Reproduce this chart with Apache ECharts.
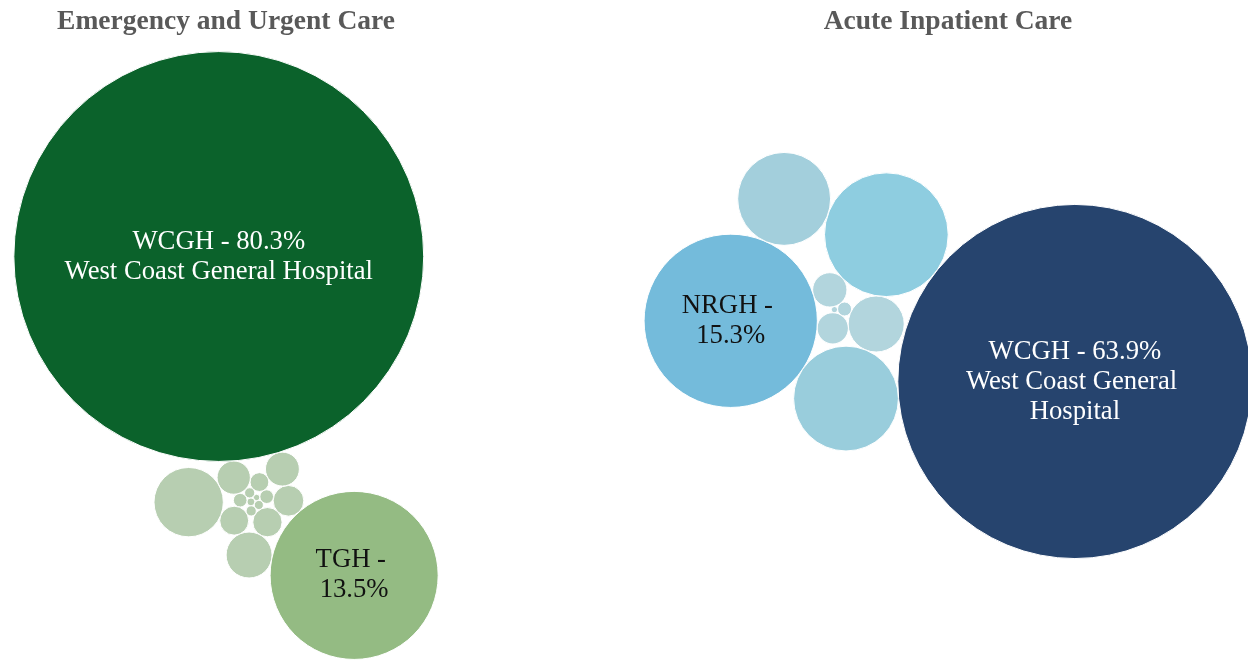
<!DOCTYPE html>
<html><head><meta charset="utf-8">
<script src="https://cdn.jsdelivr.net/npm/echarts@6/dist/echarts.min.js"></script>
<style>html,body{margin:0;padding:0;background:#fff}#c{width:1248px;height:663px}</style>
</head><body><div id="c"></div>
<script>
// ---------- DATA (share of patients, %), listed in packing order ----------
const erTitle = 'Emergency and Urgent Care';
const erCategories = ['ER-15','ER-14','ER-13','ER-12','ER-11','ER-10','ER-09','ER-08','ER-07','ER-06','ER-05','ER-04','ER-03','ER-02','ER-01','WCGH','TGH'];
const erValues     = [0.02, 0.03, 0.04, 0.05, 0.05, 0.09, 0.09, 0.17, 0.40, 0.41, 0.45, 0.53, 0.55, 1.01, 2.30, 80.3, 13.5];
const erFullNames  = ['','','','','','','','','','','','','','','','West Coast General Hospital','Tofino General Hospital'];

const ipTitle = 'Acute Inpatient Care';
const ipCategories = ['IP-08','IP-07','IP-06','IP-05','IP-04','IP-01','NRGH','IP-02','IP-03','WCGH'];
const ipValues     = [0.02, 0.10, 0.50, 0.60, 1.60, 7.80, 15.3, 5.60, 4.40, 63.9];
const ipFullNames  = ['','','','','','','Nanaimo Regional General Hospital','','','West Coast General Hospital'];

// ---------- circle packing (front-chain, as in d3.packSiblings) ----------
function place(b, a, c) {
  const dx = b.x - a.x, dy = b.y - a.y, d2 = dx * dx + dy * dy;
  if (d2) {
    let a2 = a.r + c.r; a2 *= a2;
    let b2 = b.r + c.r; b2 *= b2;
    if (a2 > b2) {
      const x = (d2 + b2 - a2) / (2 * d2), y = Math.sqrt(Math.max(0, b2 / d2 - x * x));
      c.x = b.x - x * dx - y * dy; c.y = b.y - x * dy + y * dx;
    } else {
      const x = (d2 + a2 - b2) / (2 * d2), y = Math.sqrt(Math.max(0, a2 / d2 - x * x));
      c.x = a.x + x * dx - y * dy; c.y = a.y + x * dy + y * dx;
    }
  } else { c.x = a.x + c.r; c.y = a.y; }
}
function intersects(a, b) {
  const dr = a.r + b.r - 1e-6, dx = b.x - a.x, dy = b.y - a.y;
  return dr > 0 && dr * dr > dx * dx + dy * dy;
}
function score(node) {
  const a = node._, b = node.next._, ab = a.r + b.r;
  const dx = (a.x * b.r + b.x * a.r) / ab, dy = (a.y * b.r + b.y * a.r) / ab;
  return dx * dx + dy * dy;
}
function Node(c) { this._ = c; this.next = null; this.previous = null; }
function packSiblings(circles) {
  const n = circles.length;
  if (!n) return;
  let a = circles[0], b, c;
  a.x = 0; a.y = 0;
  if (n < 2) return;
  b = circles[1]; a.x = -b.r; b.x = a.r; b.y = 0;
  if (n < 3) return;
  place(b, a, c = circles[2]);
  a = new Node(a); b = new Node(b); c = new Node(c);
  a.next = c.previous = b; b.next = a.previous = c; c.next = b.previous = a;
  pack: for (let i = 3; i < n; ++i) {
    place(a._, b._, c = circles[i]); c = new Node(c);
    let j = b.next, k = a.previous, sj = b._.r, sk = a._.r;
    do {
      if (sj <= sk) {
        if (intersects(j._, c._)) { b = j; a.next = b; b.previous = a; --i; continue pack; }
        sj += j._.r; j = j.next;
      } else {
        if (intersects(k._, c._)) { a = k; a.next = b; b.previous = a; --i; continue pack; }
        sk += k._.r; k = k.previous;
      }
    } while (j !== k.next);
    c.previous = a; c.next = b; a.next = b.previous = b = c;
    let aa = score(a), ca;
    while ((c = c.next) !== b) { if ((ca = score(c)) < aa) { a = c; aa = ca; } }
    b = a.next;
  }
}

// ---------- layout of one pane (radius ∝ √share) ----------
function layoutPane(values, cfg) {
  const circles = values.map((v, i) => ({ r: Math.sqrt(v), i }));
  packSiblings(circles);
  const rank = values.map((v, i) => i).sort((p, q) => values[q] - values[p]);
  const big = circles[rank[0]], second = circles[rank[1]];
  const tgt = cfg.angle * Math.PI / 180;
  const rot = tgt - Math.atan2(big.y - second.y, big.x - second.x);
  const cs = Math.cos(rot), sn = Math.sin(rot);
  circles.forEach(c => { const x = c.x * cs - c.y * sn, y = c.x * sn + c.y * cs; c.x = x; c.y = y; });
  if (cfg.mirror) {
    const ux = Math.cos(tgt), uy = Math.sin(tgt);
    circles.forEach(c => { const d = c.x * ux + c.y * uy; c.x = 2 * d * ux - c.x; c.y = 2 * d * uy - c.y; });
  }
  let x0 = Infinity, x1 = -Infinity, y0 = Infinity, y1 = -Infinity;
  circles.forEach(c => { x0 = Math.min(x0, c.x - c.r); x1 = Math.max(x1, c.x + c.r); y0 = Math.min(y0, c.y - c.r); y1 = Math.max(y1, c.y + c.r); });
  const cx = (x0 + x1) / 2, cy = (y0 + y1) / 2;
  const hw = cfg.grid.width / 2 / cfg.k, hh = cfg.grid.height / 2 / cfg.k;
  const rankOf = []; rank.forEach((idx, r) => rankOf[idx] = r);
  return { circles, rankOf, xRange: [cx - hw, cx + hw], yRange: [cy - hh, cy + hh] };
}

const FONT = 'Liberation Serif';
const panes = [
  { title: erTitle, cats: erCategories, vals: erValues, full: erFullNames,
    cfg: { angle: -113, mirror: true, k: 22.87, grid: { left: 0, top: 48, width: 452, height: 615 } },
    palette: ['#0b622b', '#94bb83'], rest: '#b7ceb1' },
  { title: ipTitle, cats: ipCategories, vals: ipValues, full: ipFullNames,
    cfg: { angle: 10, mirror: false, k: 22.15, grid: { left: 648, top: 48, width: 600, height: 615 } },
    palette: ['#26446e', '#74bbdb', '#8ecde0', '#99cddc', '#a3cfdc'], rest: '#b2d5dd' }
];

const option = { animation: false, title: [], grid: [], xAxis: [], yAxis: [], series: [] };
panes.forEach((p, pi) => {
  const L = layoutPane(p.vals, p.cfg);
  const k = p.cfg.k;
  option.title.push({
    text: p.title, left: p.cfg.grid.left + p.cfg.grid.width / 2, top: 8, textAlign: 'center', padding: 0,
    textStyle: { fontFamily: FONT, fontWeight: 'bold', fontSize: 27.5, color: '#595959' }
  });
  option.grid.push(Object.assign({ containLabel: false }, p.cfg.grid));
  option.xAxis.push({ type: 'value', gridIndex: pi, min: L.xRange[0], max: L.xRange[1], show: false, splitLine: { show: false } });
  option.yAxis.push({ type: 'value', gridIndex: pi, min: L.yRange[0], max: L.yRange[1], inverse: true, show: false, splitLine: { show: false } });
  const data = p.vals.map((v, i) => {
    const c = L.circles[i], r = L.rankOf[i];
    const color = r < p.palette.length ? p.palette[r] : p.rest;
    const diam = 2 * Math.sqrt(v) * k;
    return {
      name: p.cats[i], value: [c.x, c.y, v],
      itemStyle: { color },
      label: {
        show: v >= 10, width: diam * 0.8, overflow: 'break',
        color: r === 0 ? '#ffffff' : '#111111'
      }
    };
  });
  option.series.push({
    type: 'scatter', xAxisIndex: pi, yAxisIndex: pi, clip: false, symbol: 'circle',
    symbolSize: val => 2 * Math.sqrt(val[2]) * k,
    itemStyle: { opacity: 1, borderColor: '#ffffff', borderWidth: 1 },
    data,
    label: {
      position: 'inside', fontFamily: FONT, fontSize: 26.7, lineHeight: 30, align: 'center',
      formatter: prm => {
        const full = p.full[prm.dataIndex];
        const head = prm.name + ' - ' + prm.value[2].toFixed(1) + '%';
        return (full && prm.value[2] >= 50) ? head + '\n' + full : head;
      }
    },
    emphasis: { disabled: true }
  });
});
const chart = echarts.init(document.getElementById('c'), null, { renderer: 'canvas' });
chart.setOption(option);
</script></body></html>
